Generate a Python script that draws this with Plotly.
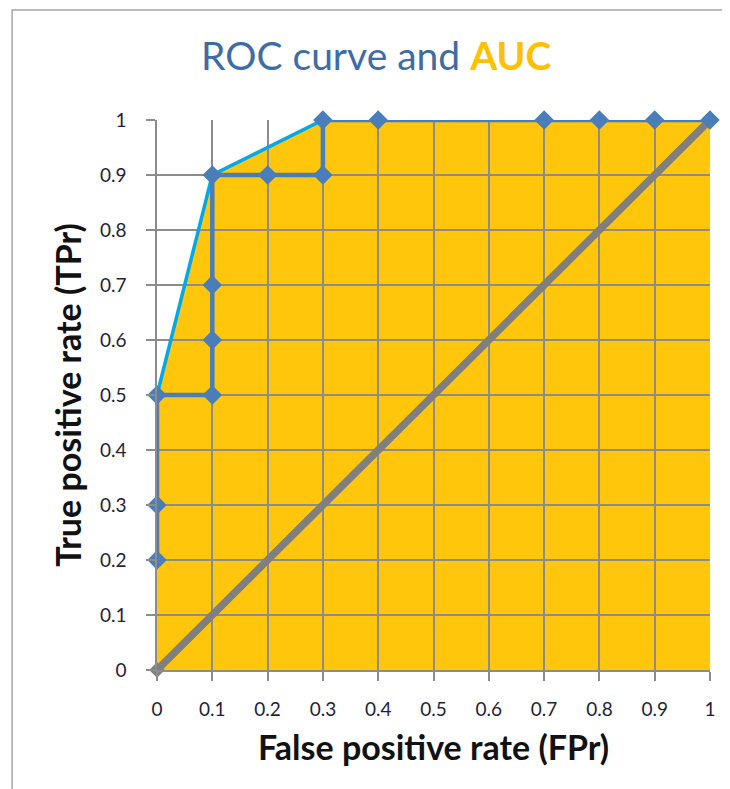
import plotly.graph_objects as go

# ROC curve points (False positive rate, True positive rate)
ROC_FPR = [0, 0, 0, 0.1, 0.1, 0.1, 0.1, 0.2, 0.3, 0.3, 0.4, 0.7, 0.8, 0.9, 1.0]
ROC_TPR = [0.2, 0.3, 0.5, 0.5, 0.6, 0.7, 0.9, 0.9, 0.9, 1.0, 1.0, 1.0, 1.0, 1.0, 1.0]

# Convex hull (upper boundary of the AUC area)
HULL_FPR = [0, 0, 0.1, 0.3, 1.0]
HULL_TPR = [0, 0.5, 0.9, 1.0, 1.0]

# Random-guess diagonal
DIAG_FPR = [0, 1]
DIAG_TPR = [0, 1]

TICKS = [0, 0.1, 0.2, 0.3, 0.4, 0.5, 0.6, 0.7, 0.8, 0.9, 1]
TICK_LABELS = ["0", "0.1", "0.2", "0.3", "0.4", "0.5", "0.6", "0.7", "0.8", "0.9", "1"]

FONT = "Lato, Open Sans, sans-serif"
GOLD = "#FFC60B"
BLUE = "#4A7EBB"
TITLE_BLUE = "#3E6CA4"
LIGHT_BLUE = "#00A8EC"
GREY = "#7F7F7F"

fig = go.Figure()

# AUC area as a shape below the gridlines, built from the hull arrays
pts = list(zip(HULL_FPR, HULL_TPR)) + [(HULL_FPR[-1], 0)]
path = "M " + " L ".join(f"{x},{y}" for x, y in pts) + " Z"
fig.add_shape(type="path", path=path, xref="x", yref="y", layer="below",
              fillcolor=GOLD, line=dict(width=0))

# diagonal
fig.add_trace(go.Scatter(x=DIAG_FPR, y=DIAG_TPR, mode="lines+markers",
                         line=dict(color=GREY, width=7.5),
                         marker=dict(symbol="diamond", size=12, color=GREY),
                         cliponaxis=False, showlegend=False))

# convex hull segment
fig.add_trace(go.Scatter(x=HULL_FPR[1:4], y=HULL_TPR[1:4], mode="lines",
                         line=dict(color=LIGHT_BLUE, width=3.5),
                         cliponaxis=False, showlegend=False))

# ROC curve
fig.add_trace(go.Scatter(x=ROC_FPR, y=ROC_TPR, mode="lines+markers",
                         line=dict(color=BLUE, width=4.5),
                         marker=dict(symbol="diamond", size=15, color=BLUE),
                         cliponaxis=False, showlegend=False))

axis_common = dict(
    range=[0, 1], tickmode="array", tickvals=TICKS, ticktext=TICK_LABELS,
    showgrid=True, gridcolor="#8C8C8C", gridwidth=1.5,
    showline=True, linecolor="#8C8C8C", linewidth=1.5,
    ticks="outside", ticklen=9, tickcolor="#8C8C8C", tickwidth=1.5,
    zeroline=False, tickfont=dict(family=FONT, size=19, color="#1F1F3A"),
)

# the page body adds an 8px offset, so the figure is slightly smaller
fig.update_layout(
    width=722, height=781,
    margin=dict(l=149, r=20, t=112, b=119),
    paper_bgcolor="white", plot_bgcolor="white",
    title=dict(
        text=f"<span style='color:{TITLE_BLUE}'>ROC curve and </span>"
             f"<span style='color:#FFC000'><b>AUC</b></span>",
        x=0.51, xanchor="center", y=0.938, yanchor="middle",
        font=dict(family=FONT, size=39),
    ),
    xaxis=dict(axis_common, ticklabelstandoff=12,
               title=dict(text="<b>False positive rate (FPr)</b>",
                          font=dict(family=FONT, size=34, color="#111"),
                          standoff=18)),
    yaxis=dict(axis_common, ticklabelstandoff=16,
               title=dict(text="<b>True positive rate (TPr)</b>",
                          font=dict(family=FONT, size=34, color="#111"),
                          standoff=8)),
)

# chart frame (top and left edges visible)
fig.add_shape(type="rect", xref="paper", yref="paper",
              x0=-0.262, x1=1.2, y0=-0.4, y1=1.2,
              line=dict(color="#A6A6A6", width=1.5), layer="above")

fig.write_html("out.html")
